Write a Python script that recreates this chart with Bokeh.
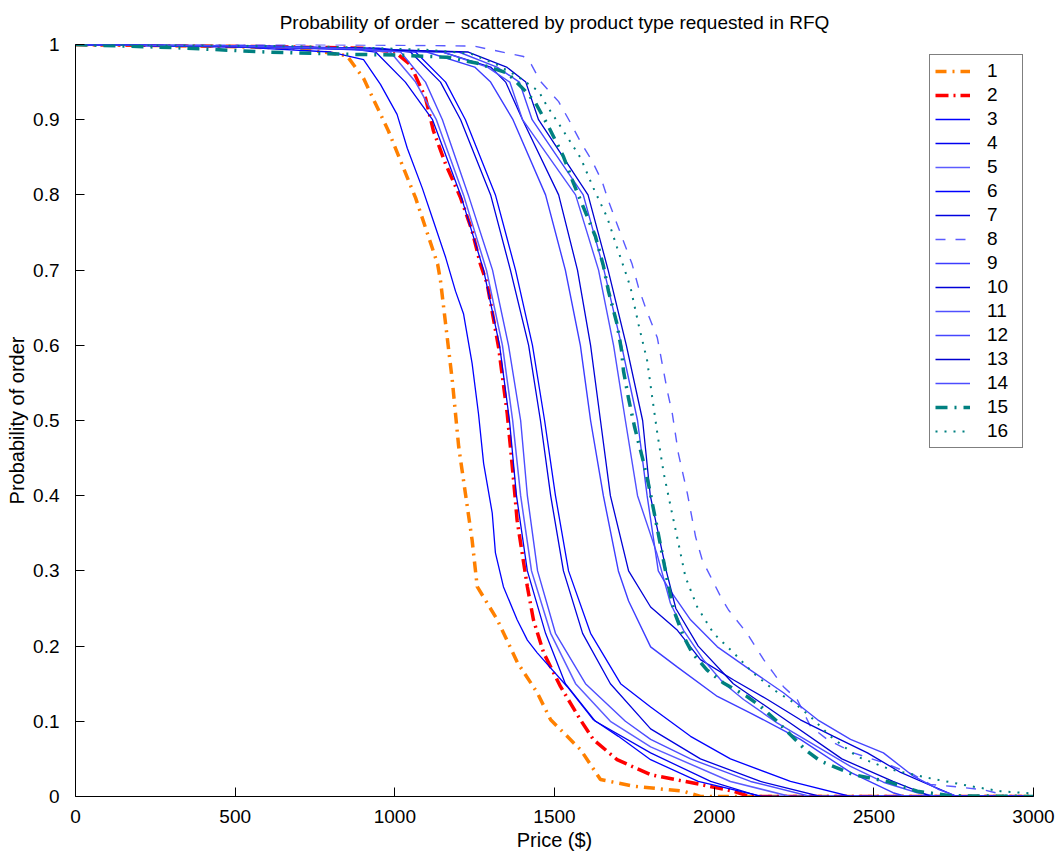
from bokeh.plotting import figure
from bokeh.models import Range1d, FixedTicker, CustomJSTickFormatter, Legend, LegendItem
from bokeh.embed import file_html
from bokeh.resources import INLINE

# ---------------- data (price in $, probability of order) ----------------
x1 = [0, 400, 700, 850, 902, 980, 1065, 1134, 1143, 1180, 1200, 1242, 1258, 1321, 1384, 1446, 1488, 1582, 1644, 1748, 1904, 1957, 3000]
y1 = [1.0, 0.998, 0.995, 0.985, 0.955, 0.885, 0.796, 0.708, 0.686, 0.553, 0.465, 0.341, 0.279, 0.235, 0.178, 0.138, 0.102, 0.062, 0.0225, 0.0137, 0.007, 0.0, 0.0]

x2 = [0, 500, 900, 1000, 1049, 1096, 1121, 1159, 1206, 1242, 1268, 1289, 1325, 1352, 1372, 1383, 1415, 1434, 1466, 1519, 1581, 1622, 1696, 1801, 1957, 2061, 2110, 3000]
y2 = [1.0, 0.998, 0.995, 0.99, 0.973, 0.929, 0.885, 0.841, 0.796, 0.752, 0.708, 0.682, 0.597, 0.509, 0.420, 0.367, 0.279, 0.235, 0.191, 0.146, 0.102, 0.0756, 0.049, 0.029, 0.016, 0.007, 0.0, 0.0]

x3 = [0, 500, 800, 902, 955, 1007, 1039, 1086, 1121, 1159, 1190, 1215, 1242, 1262, 1278, 1305, 1315, 1340, 1383, 1415, 1446, 1540, 1622, 1700, 1801, 1950, 2150, 3000]
y3 = [1.0, 0.997, 0.99, 0.98, 0.947, 0.907, 0.862, 0.809, 0.765, 0.717, 0.672, 0.642, 0.576, 0.509, 0.443, 0.377, 0.324, 0.279, 0.235, 0.208, 0.191, 0.146, 0.102, 0.08, 0.049, 0.02, 0.0, 0.0]

x4 = [0, 500, 850, 940, 1033, 1118, 1206, 1278, 1328, 1359, 1381, 1415, 1472, 1534, 1628, 1801, 1989, 2145, 3000]
y4 = [1.0, 0.998, 0.995, 0.99, 0.95, 0.9, 0.8, 0.7, 0.6, 0.5, 0.4, 0.3, 0.217, 0.15, 0.1, 0.058, 0.02, 0.0, 0.0]

x5 = [0, 500, 900, 986, 1065, 1130, 1215, 1287, 1337, 1369, 1394, 1428, 1488, 1566, 1675, 1801, 2051, 2239, 3000]
y5 = [1.0, 0.997, 0.993, 0.99, 0.95, 0.9, 0.8, 0.7, 0.6, 0.5, 0.4, 0.3, 0.217, 0.15, 0.1, 0.066, 0.02, 0.0, 0.0]

x6 = [0, 500, 950, 1065, 1159, 1221, 1315, 1378, 1431, 1469, 1503, 1544, 1613, 1707, 1801, 1926, 2051, 2239, 2427, 3000]
y6 = [1.0, 0.998, 0.995, 0.99, 0.95, 0.9, 0.8, 0.7, 0.6, 0.5, 0.4, 0.3, 0.217, 0.15, 0.119, 0.08, 0.05, 0.02, 0.0, 0.0]

x7 = [0, 500, 950, 1049, 1143, 1206, 1300, 1362, 1419, 1456, 1488, 1528, 1588, 1675, 1801, 1957, 2145, 2333, 3000]
y7 = [1.0, 0.997, 0.994, 0.99, 0.95, 0.9, 0.8, 0.7, 0.6, 0.5, 0.4, 0.3, 0.217, 0.15, 0.09, 0.05, 0.02, 0.0, 0.0]

x8 = [0, 600, 1000, 1246, 1403, 1428, 1456, 1513, 1550, 1581, 1618, 1649, 1669, 1696, 1743, 1763, 1785, 1822, 1837, 1853, 1869, 1888, 1916, 1942, 1963, 1994, 2020, 2045, 2103, 2155, 2186, 2217, 2260, 2302, 2354, 2436, 2530, 2624, 2677, 2740, 2843, 2928, 3000]
y8 = [1.0, 1.0, 0.999, 0.998, 0.984, 0.973, 0.951, 0.924, 0.896, 0.871, 0.845, 0.818, 0.792, 0.761, 0.708, 0.677, 0.650, 0.610, 0.576, 0.540, 0.509, 0.456, 0.403, 0.345, 0.314, 0.288, 0.266, 0.248, 0.217, 0.182, 0.164, 0.146, 0.129, 0.093, 0.076, 0.058, 0.045, 0.029, 0.016, 0.0137, 0.009, 0.0, 0.0]

x9 = [0, 600, 1100, 1250, 1300, 1370, 1472, 1534, 1581, 1613, 1653, 1700, 1732, 1801, 1885, 2010, 2114, 2270, 2427, 2560, 2600, 3000]
y9 = [1.0, 0.997, 0.99, 0.97, 0.95, 0.9, 0.8, 0.7, 0.6, 0.5, 0.4, 0.3, 0.26, 0.199, 0.172, 0.133, 0.111, 0.076, 0.032, 0.005, 0.0, 0.0]

x10 = [0, 600, 1150, 1300, 1347, 1400, 1513, 1572, 1613, 1644, 1675, 1732, 1801, 1885, 1957, 2061, 2167, 2270, 2374, 2480, 2584, 2687, 2760, 3000]
y10 = [1.0, 0.998, 0.99, 0.97, 0.95, 0.9, 0.8, 0.7, 0.6, 0.5, 0.4, 0.3, 0.252, 0.221, 0.182, 0.155, 0.129, 0.102, 0.080, 0.058, 0.032, 0.013, 0.0, 0.0]

x11 = [0, 600, 1150, 1290, 1360, 1400, 1566, 1638, 1685, 1722, 1760, 1820, 1863, 1904, 1966, 2029, 2092, 2197, 2324, 2427, 2530, 2636, 2700, 3000]
y11 = [1.0, 0.997, 0.99, 0.97, 0.95, 0.9, 0.8, 0.7, 0.6, 0.5, 0.4, 0.324, 0.257, 0.221, 0.182, 0.151, 0.129, 0.098, 0.066, 0.040, 0.019, 0.005, 0.0, 0.0]

x12 = [0, 600, 1200, 1320, 1390, 1430, 1590, 1655, 1710, 1760, 1790, 1825, 1854, 1926, 2010, 2114, 2217, 2324, 2427, 2530, 2624, 2700, 2760, 3000]
y12 = [1.0, 0.998, 0.99, 0.97, 0.95, 0.9, 0.8, 0.7, 0.6, 0.5, 0.4, 0.3, 0.279, 0.235, 0.199, 0.168, 0.138, 0.102, 0.076, 0.058, 0.027, 0.01, 0.0, 0.0]

x13 = [0, 600, 1230, 1350, 1410, 1450, 1605, 1668, 1725, 1776, 1800, 1850, 1880, 1950, 2060, 2230, 2400, 2560, 2680, 3000]
y13 = [1.0, 0.997, 0.99, 0.97, 0.95, 0.9, 0.8, 0.7, 0.6, 0.5, 0.4, 0.3, 0.25, 0.2, 0.15, 0.1, 0.05, 0.02, 0.0, 0.0]

x14 = [0, 500, 900, 1018, 1096, 1149, 1230, 1306, 1356, 1394, 1415, 1447, 1503, 1597, 1722, 1801, 1926, 2114, 2302, 3000]
y14 = [1.0, 0.998, 0.994, 0.99, 0.95, 0.9, 0.8, 0.7, 0.6, 0.5, 0.4, 0.3, 0.217, 0.15, 0.1, 0.076, 0.05, 0.02, 0.0, 0.0]

x15 = [0, 300, 600, 852, 1008, 1165, 1259, 1353, 1409, 1441, 1481, 1528, 1559, 1591, 1628, 1653, 1669, 1696, 1710, 1716, 1732, 1751, 1775, 1795, 1817, 1853, 1873, 1904, 1931, 1978, 2029, 2103, 2145, 2197, 2239, 2286, 2333, 2436, 2542, 2636, 2740, 3000]
y15 = [1.0, 0.996, 0.99, 0.987, 0.986, 0.983, 0.975, 0.962, 0.938, 0.922, 0.891, 0.851, 0.816, 0.783, 0.745, 0.706, 0.672, 0.628, 0.593, 0.566, 0.529, 0.491, 0.451, 0.414, 0.367, 0.288, 0.248, 0.213, 0.191, 0.168, 0.151, 0.133, 0.120, 0.100, 0.082, 0.062, 0.047, 0.029, 0.020, 0.007, 0.001, 0.0]

x16 = [0, 400, 800, 1100, 1237, 1321, 1383, 1450, 1477, 1528, 1582, 1622, 1665, 1696, 1728, 1738, 1763, 1790, 1806, 1822, 1842, 1864, 1884, 1910, 1947, 1998, 2061, 2123, 2186, 2249, 2302, 2364, 2448, 2552, 2667, 2803, 2897, 3000]
y16 = [1.0, 0.999, 0.997, 0.993, 0.988, 0.973, 0.958, 0.938, 0.918, 0.885, 0.849, 0.809, 0.770, 0.730, 0.690, 0.677, 0.628, 0.580, 0.531, 0.483, 0.430, 0.385, 0.345, 0.292, 0.252, 0.217, 0.191, 0.164, 0.142, 0.125, 0.106, 0.080, 0.053, 0.036, 0.025, 0.0137, 0.007, 0.004]

labels = [str(i) for i in range(1, 17)]
x_ticks = [0, 500, 1000, 1500, 2000, 2500, 3000]
y_ticks = [0, 0.1, 0.2, 0.3, 0.4, 0.5, 0.6, 0.7, 0.8, 0.9, 1.0]

xs = [x1, x2, x3, x4, x5, x6, x7, x8, x9, x10, x11, x12, x13, x14, x15, x16]
ys = [y1, y2, y3, y4, y5, y6, y7, y8, y9, y10, y11, y12, y13, y14, y15, y16]

# ---------------- styles ----------------
styles = [
    dict(color="#ff8000", width=3.5, dash="11 6 2 6"),
    dict(color="#ff0000", width=3.5, dash="13 5 2 5"),
    dict(color="#0000ff", width=1.3, dash="solid"),
    dict(color="#0000f0", width=1.3, dash="solid"),
    dict(color="#5c5cff", width=1.5, dash="solid"),
    dict(color="#0000ff", width=1.3, dash="solid"),
    dict(color="#0000e0", width=1.3, dash="solid"),
    dict(color="#5a5aff", width=1.4, dash="10 10"),
    dict(color="#3c3cff", width=1.4, dash="solid"),
    dict(color="#0000d8", width=1.3, dash="solid"),
    dict(color="#5050ff", width=1.4, dash="solid"),
    dict(color="#4646ff", width=1.4, dash="solid"),
    dict(color="#0000d0", width=1.3, dash="solid"),
    dict(color="#4c4cff", width=1.4, dash="solid"),
    dict(color="#008080", width=3.5, dash="12 7 2 7"),
    dict(color="#008080", width=2.0, dash="2 7"),
]

FONT = "Liberation Sans"

p = figure(width=1056, height=853, x_range=Range1d(0, 3000), y_range=Range1d(0, 1),
           output_backend="svg", toolbar_location=None,
           min_border_left=75, min_border_right=23, min_border_top=43, min_border_bottom=56,
           title="Probability of order \u2212 scattered by product type requested in RFQ")

p.title.align = "center"
p.title.text_font = FONT
p.title.text_font_size = "19px"
p.title.text_font_style = "normal"
p.title.text_color = "black"
p.title.standoff = 21
p.title.vertical_align = "middle"

p.outline_line_color = None
p.xgrid.visible = False
p.ygrid.visible = False
p.background_fill_color = "white"
p.border_fill_color = "white"

for ax in (p.xaxis[0], p.yaxis[0]):
    ax.major_tick_in = 9
    ax.major_tick_out = 0
    ax.minor_tick_in = 0
    ax.minor_tick_out = 0
    ax.axis_line_color = "black"
    ax.major_tick_line_color = "black"
    ax.major_label_text_font = FONT
    ax.major_label_text_font_size = "19px"
    ax.major_label_text_color = "black"
    ax.axis_label_text_font = FONT
    ax.axis_label_text_font_size = "20px"
    ax.axis_label_text_font_style = "normal"
    ax.axis_label_text_color = "black"

p.xaxis[0].ticker = FixedTicker(ticks=x_ticks)
p.yaxis[0].ticker = FixedTicker(ticks=y_ticks)
p.yaxis[0].formatter = CustomJSTickFormatter(code="return tick.toFixed(1).replace(/\\.0$/, '');")
p.xaxis[0].axis_label = "Price ($)"
p.yaxis[0].axis_label = "Probability of order"
p.xaxis[0].major_label_standoff = 13
p.xaxis[0].axis_label_standoff = 3
p.yaxis[0].major_label_standoff = 16
p.yaxis[0].axis_label_standoff = 2

items = []
for i in range(16):
    st = styles[i]
    r = p.line(xs[i], ys[i], line_color=st["color"], line_width=st["width"], line_dash=st["dash"])
    items.append(LegendItem(label=labels[i], renderers=[r]))

legend = Legend(items=items, location="top_right")
legend.border_line_color = "black"
legend.border_line_width = 1
legend.background_fill_color = "white"
legend.background_fill_alpha = 1.0
legend.label_text_font = FONT
legend.label_text_font_size = "19px"
legend.label_text_color = "black"
legend.glyph_width = 35
legend.glyph_height = 20
legend.label_height = 20
legend.label_width = 30
legend.label_standoff = 17
legend.padding = 5
legend.spacing = 2
legend.margin = 10
p.add_layout(legend)

open("out.html", "w").write(file_html(p, INLINE))
